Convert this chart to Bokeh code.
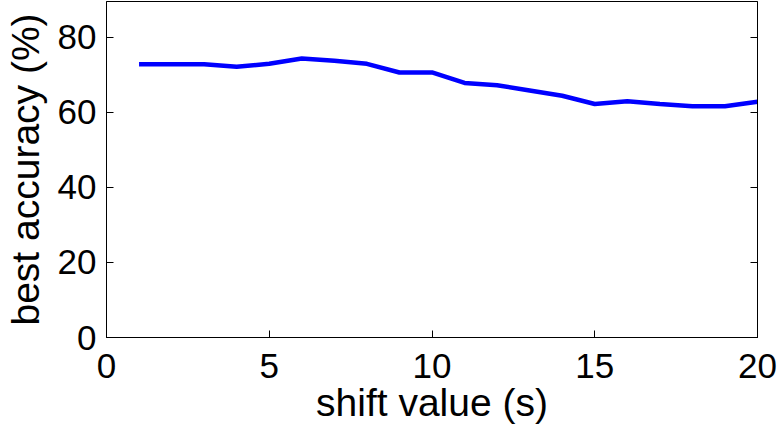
from bokeh.plotting import figure
from bokeh.models import LinearAxis, FixedTicker
from bokeh.embed import file_html
from bokeh.resources import INLINE

shift = [1, 2, 3, 4, 5, 6, 7, 8, 9, 10, 11, 12, 13, 14, 15, 16, 17, 18, 19, 20]
accuracy = [72.8, 72.8, 72.8, 72.1, 72.9, 74.3, 73.7, 72.9, 70.6, 70.6,
            67.8, 67.2, 65.8, 64.4, 62.2, 62.9, 62.2, 61.6, 61.6, 62.8]
x_ticks = [0, 5, 10, 15, 20]
y_ticks = [0, 20, 40, 60, 80]

FONT = "Liberation Sans"

p = figure(frame_width=651, frame_height=336, x_range=(0, 20), y_range=(0, 89.5),
           output_backend="svg", toolbar_location=None,
           min_border_left=106, min_border_right=24, min_border_top=1, min_border_bottom=94)
p.background_fill_color = "white"
p.border_fill_color = "white"
p.outline_line_color = "black"
p.outline_line_width = 1
p.xgrid.visible = False
p.ygrid.visible = False

p.line(shift, accuracy, line_color="#0000ff", line_width=4.5)

for ax, ticks in ((p.xaxis[0], x_ticks), (p.yaxis[0], y_ticks)):
    ax.ticker = FixedTicker(ticks=ticks)
    ax.major_tick_in = 7
    ax.major_tick_out = 0
    ax.minor_tick_line_color = None
    ax.axis_line_color = "black"
    ax.major_label_text_font = FONT
    ax.major_label_text_font_size = "35px"
    ax.major_label_text_color = "black"
    ax.axis_label_text_font = FONT
    ax.axis_label_text_font_size = "39px"
    ax.axis_label_text_font_style = "normal"
    ax.axis_label_text_color = "black"

p.xaxis.axis_label = "shift value (s)"
p.yaxis.axis_label = "best accuracy (%)"
p.xaxis.major_label_standoff = 16
p.yaxis.major_label_standoff = 10
p.xaxis.axis_label_standoff = 0
p.yaxis.axis_label_standoff = 8

right = LinearAxis(ticker=FixedTicker(ticks=y_ticks), major_tick_in=7, major_tick_out=0,
                   minor_tick_line_color=None, major_label_text_font_size="0px",
                   major_label_text_color=None, axis_line_color="black")
p.add_layout(right, "right")

open("out.html", "w").write(file_html(p, INLINE))
